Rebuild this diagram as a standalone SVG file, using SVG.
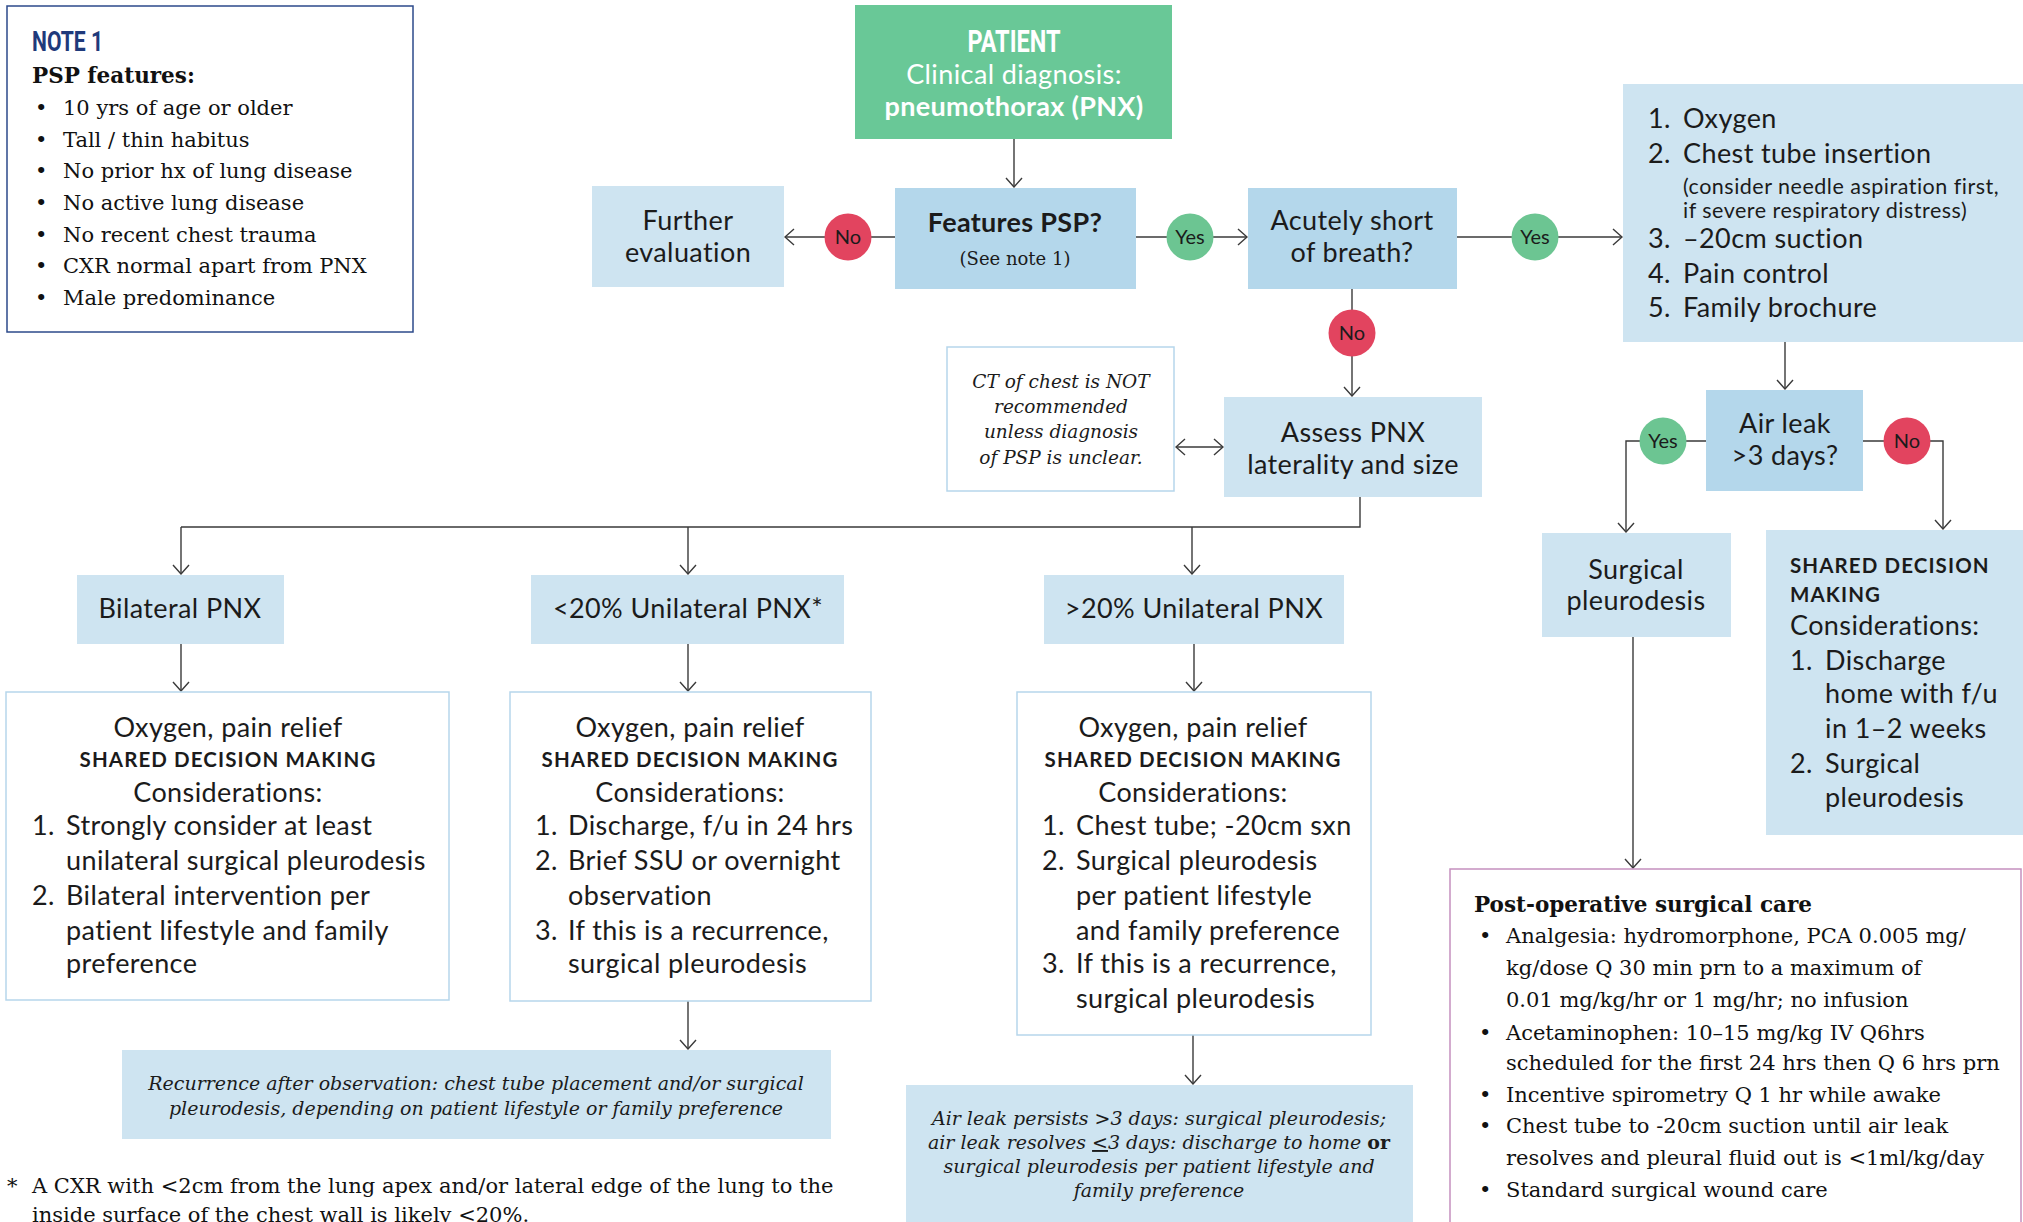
<svg xmlns="http://www.w3.org/2000/svg" width="2023" height="1222" viewBox="0 0 2023 1222">
<defs>
<style>
.s{font-family:Lato,"Open Sans","Liberation Sans",sans-serif;font-size:27px;fill:#1b1b1b;letter-spacing:0.4px}
.sb{font-family:Lato,"Open Sans","Liberation Sans",sans-serif;font-size:27px;font-weight:bold;fill:#1b1b1b;letter-spacing:0.3px}
.sm{font-family:Lato,"Open Sans","Liberation Sans",sans-serif;font-size:21.5px;fill:#1b1b1b;letter-spacing:0.5px}
.caps{font-family:Lato,"Open Sans","Liberation Sans",sans-serif;font-size:20.5px;font-weight:bold;fill:#1b1b1b;letter-spacing:1.1px}
.lbl{font-family:Lato,"Open Sans","Liberation Sans",sans-serif;font-size:20px;fill:#1b1b1b;text-anchor:middle}
.c{text-anchor:middle}
.sf{font-family:"DejaVu Serif","Liberation Serif",serif;font-size:21px;fill:#111}
.sfb{font-family:"DejaVu Serif","Liberation Serif",serif;font-size:21.5px;font-weight:bold;fill:#111}
.sfi{font-family:"DejaVu Serif","Liberation Serif",serif;font-size:19px;font-style:italic;fill:#1b1b1b}
.sfs{font-family:"DejaVu Serif","Liberation Serif",serif;font-size:18px;fill:#1b1b1b}
.dark{fill:#b4d7eb}
.light{fill:#cee4f1}
.outline{fill:#fff;stroke:#b6d6eb;stroke-width:1.5}
.yes{fill:#6cc592}
.no{fill:#e2445f}
.ln{fill:none;stroke:#3a3a3a;stroke-width:1.4}
</style>
<marker id="ah" viewBox="-1 -9 11 18" refX="9" refY="0" markerWidth="11" markerHeight="18" markerUnits="userSpaceOnUse" orient="auto-start-reverse">
<path d="M0,-8 L9,0 L0,8" fill="none" stroke="#3a3a3a" stroke-width="1.4"/>
</marker>
</defs>
<rect width="2023" height="1222" fill="#fff"/>

<g id="connectors">
<path class="ln" d="M1014,139 V187" marker-end="url(#ah)"/>
<path class="ln" d="M895,237 H785" marker-end="url(#ah)"/>
<path class="ln" d="M1136,237 H1247" marker-end="url(#ah)"/>
<path class="ln" d="M1457,237 H1622" marker-end="url(#ah)"/>
<path class="ln" d="M1352,289 V396" marker-end="url(#ah)"/>
<path class="ln" d="M1176,447 H1223" marker-start="url(#ah)" marker-end="url(#ah)"/>
<path class="ln" d="M1360,497 V527 H181"/>
<path class="ln" d="M181,527 V574" marker-end="url(#ah)"/>
<path class="ln" d="M688,527 V574" marker-end="url(#ah)"/>
<path class="ln" d="M1192,527 V574" marker-end="url(#ah)"/>
<path class="ln" d="M181,644 V691" marker-end="url(#ah)"/>
<path class="ln" d="M688,644 V691" marker-end="url(#ah)"/>
<path class="ln" d="M1194,644 V691" marker-end="url(#ah)"/>
<path class="ln" d="M688,1001 V1049" marker-end="url(#ah)"/>
<path class="ln" d="M1193,1035 V1084" marker-end="url(#ah)"/>
<path class="ln" d="M1785,342 V389" marker-end="url(#ah)"/>
<path class="ln" d="M1706,441 H1626 V532" marker-end="url(#ah)"/>
<path class="ln" d="M1863,441 H1943 V529" marker-end="url(#ah)"/>
<path class="ln" d="M1633,637 V868" marker-end="url(#ah)"/>
</g>

<g id="note1">
<rect x="7" y="6" width="406" height="326" fill="#fff" stroke="#2c4a8a" stroke-width="1.5"/>
<text x="32" y="51" font-family="Roboto,'Liberation Sans',sans-serif" font-weight="bold" font-size="27" fill="#1f3a7b" textLength="71" lengthAdjust="spacingAndGlyphs">NOTE 1</text>
<text class="sfb" x="32" y="83">PSP features:</text>
<g class="sf">
<text x="35" y="115">•</text><text x="63" y="115">10 yrs of age or older</text>
<text x="35" y="147">•</text><text x="63" y="147">Tall / thin habitus</text>
<text x="35" y="178">•</text><text x="63" y="178">No prior hx of lung disease</text>
<text x="35" y="210">•</text><text x="63" y="210">No active lung disease</text>
<text x="35" y="242">•</text><text x="63" y="242">No recent chest trauma</text>
<text x="35" y="273">•</text><text x="63" y="273">CXR normal apart from PNX</text>
<text x="35" y="305">•</text><text x="63" y="305">Male predominance</text>
</g>
</g>

<g id="patient">
<rect x="855" y="5" width="317" height="134" fill="#69c897"/>
<text x="1014" y="52" text-anchor="middle" font-family="Roboto,'Liberation Sans',sans-serif" font-weight="bold" font-size="31" fill="#fff" textLength="93" lengthAdjust="spacingAndGlyphs">PATIENT</text>
<text class="s c" x="1014" y="84" style="fill:#fff">Clinical diagnosis:</text>
<text class="sb c" x="1014" y="116" style="fill:#fff">pneumothorax (PNX)</text>
</g>

<g id="features">
<rect class="dark" x="895" y="188" width="241" height="101"/>
<text class="sb c" x="1015" y="232">Features PSP?</text>
<text class="sfs c" x="1015" y="265">(See note 1)</text>
</g>

<g id="further">
<rect class="light" x="592" y="186" width="192" height="101"/>
<text class="s c" x="688" y="230">Further</text>
<text class="s c" x="688" y="262">evaluation</text>
</g>

<g id="acutely">
<rect class="dark" x="1248" y="188" width="209" height="101"/>
<text class="s c" x="1352" y="230">Acutely short</text>
<text class="s c" x="1352" y="262">of breath?</text>
</g>

<g id="label-no1"><circle class="no" cx="848" cy="237" r="23.5"/><text class="lbl" x="848" y="244">No</text></g>
<g id="label-yes1"><circle class="yes" cx="1190" cy="237" r="23.5"/><text class="lbl" x="1190" y="244">Yes</text></g>
<g id="label-yes2"><circle class="yes" cx="1535" cy="237" r="23.5"/><text class="lbl" x="1535" y="244">Yes</text></g>
<g id="label-no2"><circle class="no" cx="1352" cy="333" r="23.5"/><text class="lbl" x="1352" y="340">No</text></g>
<g id="label-yes3"><circle class="yes" cx="1663" cy="441" r="23.5"/><text class="lbl" x="1663" y="448">Yes</text></g>
<g id="label-no3"><circle class="no" cx="1907" cy="441" r="23.5"/><text class="lbl" x="1907" y="448">No</text></g>

<g id="treatment">
<rect class="light" x="1623" y="84" width="400" height="258"/>
<text class="s" x="1648" y="128">1.</text><text class="s" x="1683" y="128">Oxygen</text>
<text class="s" x="1648" y="163">2.</text><text class="s" x="1683" y="163">Chest tube insertion</text>
<text class="sm" x="1683" y="194">(consider needle aspiration first,</text>
<text class="sm" x="1683" y="218">if severe respiratory distress)</text>
<text class="s" x="1648" y="248">3.</text><text class="s" x="1683" y="248">–20cm suction</text>
<text class="s" x="1648" y="283">4.</text><text class="s" x="1683" y="283">Pain control</text>
<text class="s" x="1648" y="317">5.</text><text class="s" x="1683" y="317">Family brochure</text>
</g>

<g id="ct-note">
<rect class="outline" x="947" y="347" width="227" height="144"/>
<text class="sfi c" x="1061" y="388" style="font-size:18.5px">CT of chest is NOT</text>
<text class="sfi c" x="1061" y="413" style="font-size:18.5px">recommended</text>
<text class="sfi c" x="1061" y="438" style="font-size:18.5px">unless diagnosis</text>
<text class="sfi c" x="1061" y="464" style="font-size:18.5px">of PSP is unclear.</text>
</g>

<g id="assess">
<rect class="light" x="1224" y="397" width="258" height="100"/>
<text class="s c" x="1353" y="442">Assess PNX</text>
<text class="s c" x="1353" y="474">laterality and size</text>
</g>

<g id="airleak">
<rect class="dark" x="1706" y="390" width="157" height="101"/>
<text class="s c" x="1785" y="433">Air leak</text>
<text class="s c" x="1785" y="465">&gt;3 days?</text>
</g>

<g id="surgical">
<rect class="light" x="1542" y="533" width="189" height="104"/>
<text class="s c" x="1636" y="579">Surgical</text>
<text class="s c" x="1636" y="610">pleurodesis</text>
</g>

<g id="shared-right">
<rect class="light" x="1766" y="530" width="257" height="305"/>
<text class="caps" x="1790" y="573">SHARED DECISION</text>
<text class="caps" x="1790" y="602">MAKING</text>
<text class="s" x="1790" y="635">Considerations:</text>
<text class="s" x="1790" y="670">1.</text><text class="s" x="1825" y="670">Discharge</text>
<text class="s" x="1825" y="703">home with f/u</text>
<text class="s" x="1825" y="738">in 1–2 weeks</text>
<text class="s" x="1790" y="773">2.</text><text class="s" x="1825" y="773">Surgical</text>
<text class="s" x="1825" y="807">pleurodesis</text>
</g>

<g id="bilateral">
<rect class="light" x="77" y="575" width="207" height="69"/>
<text class="s c" x="180" y="618">Bilateral PNX</text>
</g>
<g id="lt20">
<rect class="light" x="531" y="575" width="313" height="69"/>
<text class="s c" x="688" y="618">&lt;20% Unilateral PNX*</text>
</g>
<g id="gt20">
<rect class="light" x="1044" y="575" width="300" height="69"/>
<text class="s c" x="1194" y="618">&gt;20% Unilateral PNX</text>
</g>

<g id="plan-bilateral">
<rect class="outline" x="6" y="692" width="443" height="308"/>
<text class="s c" x="228" y="737">Oxygen, pain relief</text>
<text class="caps c" x="228" y="767">SHARED DECISION MAKING</text>
<text class="s c" x="228" y="802">Considerations:</text>
<text class="s" x="32" y="835">1.</text><text class="s" x="66" y="835">Strongly consider at least</text>
<text class="s" x="66" y="870">unilateral surgical pleurodesis</text>
<text class="s" x="32" y="905">2.</text><text class="s" x="66" y="905">Bilateral intervention per</text>
<text class="s" x="66" y="940">patient lifestyle and family</text>
<text class="s" x="66" y="973">preference</text>
</g>

<g id="plan-lt20">
<rect class="outline" x="510" y="692" width="361" height="309"/>
<text class="s c" x="690" y="737">Oxygen, pain relief</text>
<text class="caps c" x="690" y="767">SHARED DECISION MAKING</text>
<text class="s c" x="690" y="802">Considerations:</text>
<text class="s" x="535" y="835">1.</text><text class="s" x="568" y="835">Discharge, f/u in 24 hrs</text>
<text class="s" x="535" y="870">2.</text><text class="s" x="568" y="870">Brief SSU or overnight</text>
<text class="s" x="568" y="905">observation</text>
<text class="s" x="535" y="940">3.</text><text class="s" x="568" y="940">If this is a recurrence,</text>
<text class="s" x="568" y="973">surgical pleurodesis</text>
</g>

<g id="plan-gt20">
<rect class="outline" x="1017" y="692" width="354" height="343"/>
<text class="s c" x="1193" y="737">Oxygen, pain relief</text>
<text class="caps c" x="1193" y="767">SHARED DECISION MAKING</text>
<text class="s c" x="1193" y="802">Considerations:</text>
<text class="s" x="1042" y="835">1.</text><text class="s" x="1076" y="835">Chest tube; -20cm sxn</text>
<text class="s" x="1042" y="870">2.</text><text class="s" x="1076" y="870">Surgical pleurodesis</text>
<text class="s" x="1076" y="905">per patient lifestyle</text>
<text class="s" x="1076" y="940">and family preference</text>
<text class="s" x="1042" y="973">3.</text><text class="s" x="1076" y="973">If this is a recurrence,</text>
<text class="s" x="1076" y="1008">surgical pleurodesis</text>
</g>

<g id="recurrence">
<rect class="light" x="122" y="1050" width="709" height="89"/>
<text class="sfi c" x="476" y="1090">Recurrence after observation: chest tube placement and/or surgical</text>
<text class="sfi c" x="476" y="1115">pleurodesis, depending on patient lifestyle or family preference</text>
</g>

<g id="airleak-outcome">
<rect class="light" x="906" y="1085" width="507" height="140"/>
<text class="sfi c" x="1159" y="1125">Air leak persists &gt;3 days: surgical pleurodesis;</text>
<text class="sfi c" x="1159" y="1149">air leak resolves <tspan text-decoration="underline">&lt;</tspan>3 days: discharge to home <tspan font-style="normal" font-weight="bold">or</tspan></text>
<text class="sfi c" x="1159" y="1173">surgical pleurodesis per patient lifestyle and</text>
<text class="sfi c" x="1159" y="1197">family preference</text>
</g>

<g id="postop">
<rect x="1450" y="869" width="571" height="360" fill="#fff" stroke="#c590bf" stroke-width="1.5"/>
<text class="sfb" x="1474" y="912">Post-operative surgical care</text>
<g class="sf">
<text x="1479" y="943">•</text><text x="1506" y="943">Analgesia: hydromorphone, PCA 0.005 mg/</text>
<text x="1506" y="975">kg/dose Q 30 min prn to a maximum of</text>
<text x="1506" y="1007">0.01 mg/kg/hr or 1 mg/hr; no infusion</text>
<text x="1479" y="1040">•</text><text x="1506" y="1040">Acetaminophen: 10–15 mg/kg IV Q6hrs</text>
<text x="1506" y="1070">scheduled for the first 24 hrs then Q 6 hrs prn</text>
<text x="1479" y="1102">•</text><text x="1506" y="1102">Incentive spirometry Q 1 hr while awake</text>
<text x="1479" y="1133">•</text><text x="1506" y="1133">Chest tube to -20cm suction until air leak</text>
<text x="1506" y="1165">resolves and pleural fluid out is &lt;1ml/kg/day</text>
<text x="1479" y="1197">•</text><text x="1506" y="1197">Standard surgical wound care</text>
</g>
</g>

<g id="footnote">
<text class="sf" x="7" y="1193" style="font-size:21px">*</text>
<text class="sf" x="32" y="1193" style="font-size:21px">A CXR with &lt;2cm from the lung apex and/or lateral edge of the lung to the</text>
<text class="sf" x="32" y="1222" style="font-size:21px">inside surface of the chest wall is likely &lt;20%.</text>
</g>
</svg>
